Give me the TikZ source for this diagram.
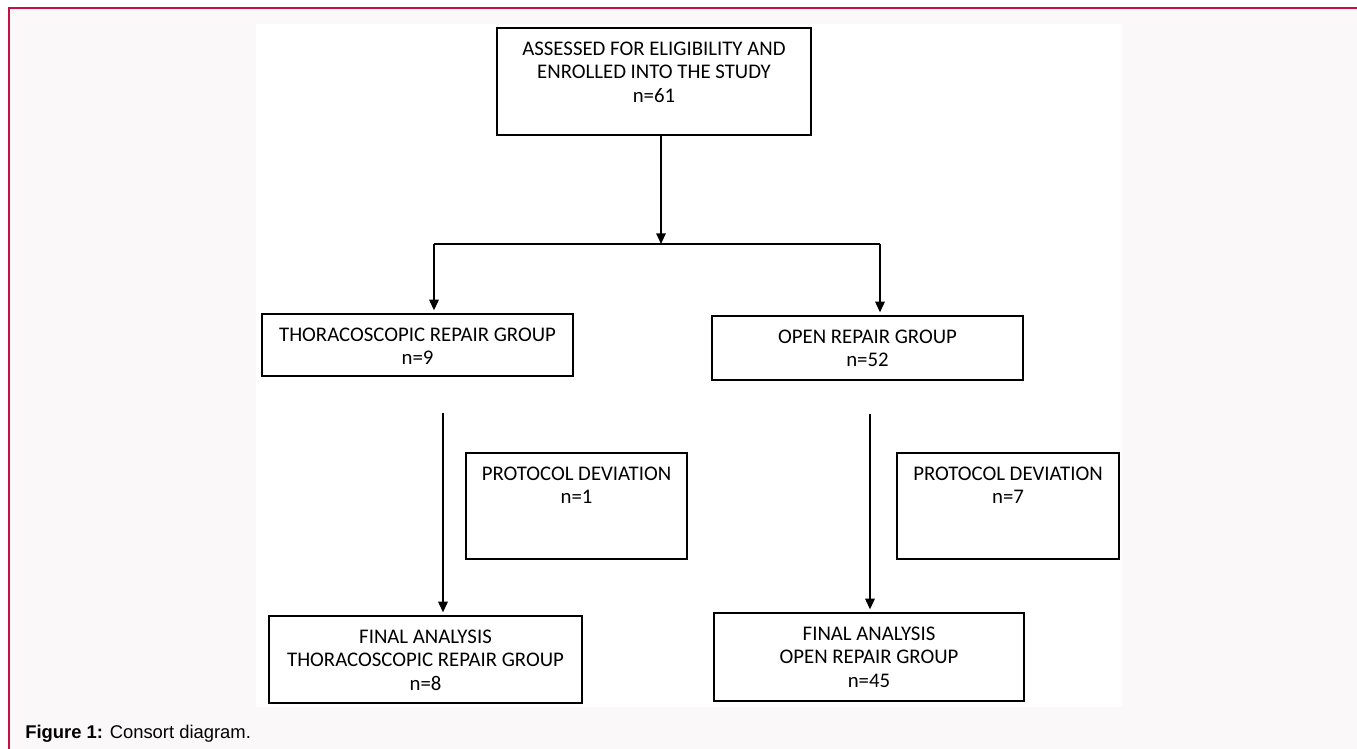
\documentclass[tikz,border=0pt]{standalone}
\usepackage{fontspec}
\setmainfont{Carlito}
\newfontfamily\capfont{Liberation Sans}
\usetikzlibrary{arrows.meta,positioning}

\begin{document}
\begin{tikzpicture}[x=0.75pt,y=-0.75pt]

  \definecolor{framecol}{RGB}{196,18,64}
  \definecolor{pagecol}{RGB}{250,248,249}

 \tikzset{
      boxstl/.style={draw,line width=1.4pt,inner sep=0pt},
      txtstl/.style={anchor=north,inner sep=0pt,align=center,
        font=\fontsize{15.6}{17.6}\selectfont},
      arrstl/.style={line width=1.4pt,-{Triangle[length=8pt,width=7pt]}},
    }

 \useasboundingbox (0,0) rectangle (1357,749);
 \fill[white] (0,0) rectangle (1357,749);
 \fill[pagecol] (9,8) rectangle (1357,749);
 \fill[white] (256,24) rectangle (1122,707);
 \draw[framecol,line width=1.5pt] (9,749) -- (9,8) -- (1357,8);

 % boxes
 \node[boxstl,minimum width=235.5pt,minimum height=80.25pt] (assess) at (654,81.5) {};
 \node[boxstl,minimum width=233.25pt,minimum height=46.5pt] (thor) at (417.5,345) {};
 \node[boxstl,minimum width=233.25pt,minimum height=48pt] (open) at (867.5,348) {};
 \node[boxstl,minimum width=165.75pt,minimum height=79.5pt] (thordev) at (576.5,506) {};
 \node[boxstl,minimum width=166.5pt,minimum height=79.5pt] (opendev) at (1008,506) {};
 \node[boxstl,minimum width=234.75pt,minimum height=65.25pt] (thorfin) at (425.5,659.5) {};
 \node[boxstl,minimum width=232.5pt,minimum height=66pt] (openfin) at (869,657) {};

 % texts, hung from the top edge
 \node[txtstl] (assess-txt) at ([yshift=-11pt]assess.north)
   {ASSESSED FOR ELIGIBILITY AND\\ENROLLED INTO THE STUDY\\n=61};
 \node[txtstl] (thor-txt) at ([yshift=-11pt]thor.north)
   {THORACOSCOPIC REPAIR GROUP\\n=9};
 \node[txtstl] (open-txt) at ([yshift=-11pt]open.north)
   {OPEN REPAIR GROUP\\n=52};
 \node[txtstl] (thordev-txt) at ([yshift=-11pt]thordev.north)
   {PROTOCOL DEVIATION\\n=1};
 \node[txtstl] (opendev-txt) at ([yshift=-11pt]opendev.north)
   {PROTOCOL DEVIATION\\n=7};
 \node[txtstl] (thorfin-txt) at ([yshift=-11pt]thorfin.north)
   {FINAL ANALYSIS\\THORACOSCOPIC REPAIR GROUP\\n=8};
 \node[txtstl] (openfin-txt) at ([yshift=-11pt]openfin.north)
   {FINAL ANALYSIS\\OPEN REPAIR GROUP\\n=45};

 \coordinate (split) at (661,244);
 \coordinate (lsplit) at (434,244);
 \coordinate (rsplit) at (880,244);
 \coordinate (ltrack) at (443,413);
 \coordinate (rtrack) at (870,414);

 \draw[arrstl] (assess.south -| split) -- (split);
 \draw[line width=1.4pt] (lsplit) -- (rsplit);
 \draw[arrstl] (lsplit) -- ([yshift=2pt]lsplit |- thor.north);
 \draw[arrstl] (rsplit) -- ([yshift=2pt]rsplit |- open.north);
 \draw[arrstl] (ltrack) -- ([yshift=2pt]ltrack |- thorfin.north);
 \draw[arrstl] (rtrack) -- ([yshift=2pt]rtrack |- openfin.north);

 \node[anchor=base west,inner sep=0pt,font=\capfont\fontsize{13.8}{16}\selectfont]
   (caption) at (25,738) {\textbf{Figure 1:} Consort diagram.};
\end{tikzpicture}
\end{document}
